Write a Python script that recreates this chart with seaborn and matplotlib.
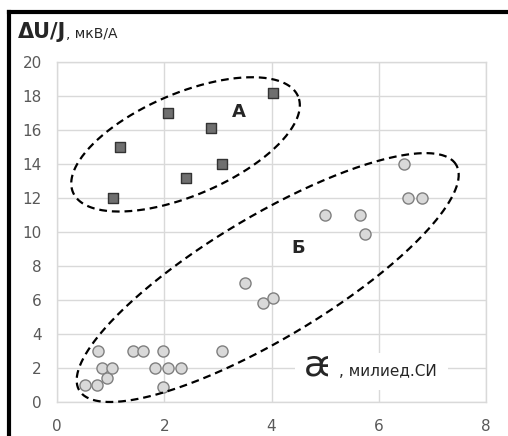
import numpy as np
import pandas as pd
import matplotlib
matplotlib.use('Agg')
import matplotlib.pyplot as plt
import seaborn as sns
from matplotlib.lines import Line2D

# группа А (квадраты)
a_x = [1.05, 1.17, 2.07, 2.40, 2.87, 3.07, 4.03]
a_y = [12.0, 15.0, 17.0, 13.2, 16.1, 14.0, 18.2]

# группа Б (кружки)
b_x = [0.52, 0.74, 0.76, 0.84, 0.93, 1.03, 1.42, 1.60, 1.83, 1.97, 1.97, 2.07, 2.31,
       3.08, 3.50, 3.85, 4.03, 5.00, 5.65, 5.75, 6.47, 6.55, 6.81]
b_y = [1.0, 1.0, 3.0, 2.0, 1.4, 2.0, 3.0, 3.0, 2.0, 3.0, 0.9, 2.0, 2.0,
       3.0, 7.0, 5.8, 6.1, 11.0, 11.0, 9.9, 14.0, 12.0, 12.0]

x_ticks = [0, 2, 4, 6, 8]
y_ticks = [0, 2, 4, 6, 8, 10, 12, 14, 16, 18, 20]

df_a = pd.DataFrame({'x': a_x, 'y': a_y})
df_b = pd.DataFrame({'x': b_x, 'y': b_y})

sns.set_style('white')
plt.rcParams['font.family'] = ['DejaVu Sans']

fig = plt.figure(figsize=(5.08, 4.36), dpi=100)
ax = fig.add_axes([0.1122, 0.078, 0.8445, 0.78])

sns.scatterplot(data=df_b, x='x', y='y', ax=ax, marker='o', s=64,
                color='#d9d9d9', edgecolor='#7f7f7f', linewidth=1.0, zorder=3)
sns.scatterplot(data=df_a, x='x', y='y', ax=ax, marker='s', s=52,
                color='#6f6f6f', edgecolor='#333333', linewidth=1.0, zorder=3)

ax.set_xlim(0, 8)
ax.set_ylim(0, 20)
ax.set_xticks(x_ticks)
ax.set_yticks(y_ticks)
ax.set_xlabel('')
ax.set_ylabel('')
ax.grid(True, color='#d9d9d9', lw=1.0)
ax.set_axisbelow(True)
for s in ax.spines.values():
    s.set_color('#d9d9d9')
    s.set_linewidth(1.0)
ax.tick_params(length=0, labelsize=11, labelcolor='#595959')
ax.tick_params(axis='y', pad=11)
ax.tick_params(axis='x', pad=12)

# пунктирные эллипсы (полуоси в пикселях, переведённые в единицы данных)
sx, sy = 53.65, 17.0
def ellipse(cx, cy, a, b, ang):
    t = np.linspace(0, 2 * np.pi, 300)
    th = np.radians(ang)
    px = a * np.cos(t) * np.cos(th) - b * np.sin(t) * np.sin(th)
    py = a * np.cos(t) * np.sin(th) + b * np.sin(t) * np.cos(th)
    ax.plot(cx + px / sx, cy + py / sy, color='black', lw=1.6,
            linestyle=(0, (3.5, 2.2)), zorder=4, clip_on=False)

ellipse(2.397, 15.15, 122.4, 51.0, 23.1)
ellipse(3.929, 7.318, 219.7, 61.1, 30.9)

ax.text(3.39, 17.05, 'А', fontsize=13, fontweight='bold', ha='center', va='center')
ax.text(4.49, 9.05, 'Б', fontsize=13, fontweight='bold', ha='center', va='center')

# подпись оси Y
t1 = fig.text(18 / 508, 1 - 38 / 436, 'ΔU/J', fontsize=15, fontweight='bold', va='baseline')
fig.canvas.draw()
bb = t1.get_window_extent()
fig.text(bb.x1 / 508, 1 - 38 / 436, ', мкВ/А', fontsize=10, va='baseline')

# подпись оси X
t2 = ax.text(4.60, 1.53, 'æ', fontsize=26, va='baseline', ha='left',
             bbox=dict(facecolor='white', edgecolor='none', pad=6), zorder=2)
fig.canvas.draw()
bb2 = t2.get_window_extent()
xr = ax.transData.inverted().transform((bb2.x1, 0))[0]
ax.text(xr, 1.53, ', милиед.СИ', fontsize=11, va='baseline', ha='left',
        bbox=dict(facecolor='white', edgecolor='none', pad=8), zorder=2)

# чёрная рамка (верх и лево)
fig.add_artist(Line2D([0.0187, 1.0], [0.9725, 0.9725], color='black', lw=3,
                      transform=fig.transFigure, solid_capstyle='projecting'))
fig.add_artist(Line2D([0.0187, 0.0187], [0.0, 0.9725], color='black', lw=3,
                      transform=fig.transFigure, solid_capstyle='projecting'))

fig.savefig('out.png', dpi=100)
